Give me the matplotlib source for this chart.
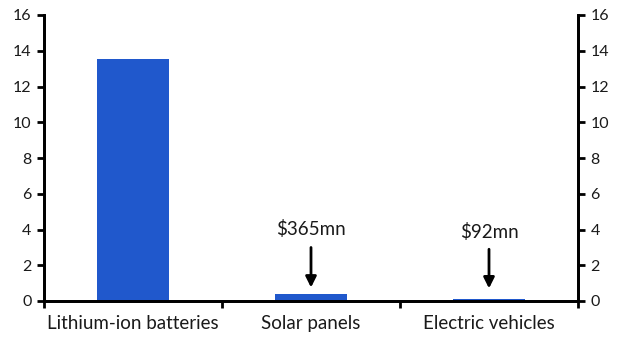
import numpy as np
import matplotlib.pyplot as plt

categories = ['Lithium-ion batteries', 'Solar panels', 'Electric vehicles']
values = [13.55, 0.365, 0.092]
labels = ['', '$365mn', '$92mn']
yticks = [0, 2, 4, 6, 8, 10, 12, 14, 16]

plt.rcParams['font.family'] = ['Lato', 'DejaVu Sans']
plt.rcParams['font.size'] = 11.5

fig = plt.figure(figsize=(6.31, 3.56), dpi=100)
ax = fig.add_axes([44 / 631, 55 / 356, 534 / 631, 286 / 356])

x = np.arange(len(categories))
ax.bar(x, values, width=0.4, color='#2058CC', zorder=2)

# arrows pointing at the tiny bars
ax.annotate('', xy=(1, 0.6), xytext=(1, 3.15),
            arrowprops=dict(arrowstyle='-|>', color='black', lw=2, mutation_scale=16))
ax.text(1, 4.05, labels[1], ha='center', va='center', color='#1a1a1a', fontsize=13.5)
ax.annotate('', xy=(2, 0.55), xytext=(2, 3.05),
            arrowprops=dict(arrowstyle='-|>', color='black', lw=2, mutation_scale=16))
ax.text(2, 3.85, labels[2], ha='center', va='center', color='#1a1a1a', fontsize=13.5)

ax.set_xlim(-0.5, 2.5)
ax.set_ylim(0, 16)
ax.set_yticks(yticks)
ax.set_xticks([-0.5, 0.5, 1.5, 2.5])
ax.set_xticklabels([])
ax.set_xticks(x, minor=True)
ax.set_xticklabels(categories, minor=True, fontsize=13.5)
ax.tick_params(axis='x', which='minor', length=0, pad=10, labelcolor='#1a1a1a')
ax.tick_params(axis='x', which='major', length=5, width=2, direction='out')

ax2 = ax.twinx()
ax2.set_ylim(0, 16)
ax2.set_yticks(yticks)

for a in (ax, ax2):
    a.tick_params(axis='y', length=5, width=2, direction='out', pad=4, colors='black', labelcolor='#1a1a1a')
    a.spines['top'].set_visible(False)
    for s in ('left', 'right', 'bottom'):
        a.spines[s].set_linewidth(2)

plt.savefig('out.png', dpi=100)
